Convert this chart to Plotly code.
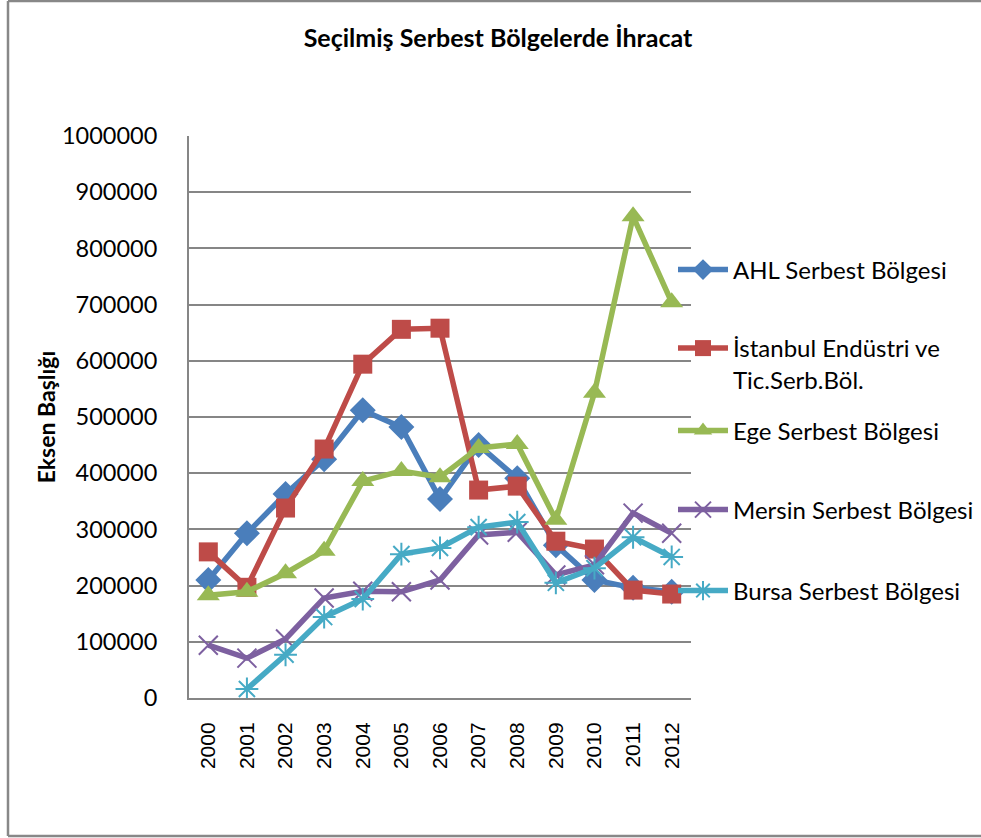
import plotly.graph_objects as go

years = ["2000", "2001", "2002", "2003", "2004", "2005", "2006",
         "2007", "2008", "2009", "2010", "2011", "2012"]

ahl = [210000, 293000, 363000, 425000, 512000, 482000, 354000,
       450000, 391000, 272000, 210000, 196000, 189000]
istanbul = [260000, 197000, 338000, 443000, 594000, 656000, 658000,
            370000, 377000, 279000, 265000, 192000, 185000]
ege = [183000, 189000, 222000, 262000, 386000, 404000, 393000,
       445000, 452000, 317000, 543000, 857000, 704000]
mersin = [94000, 71000, 105000, 178000, 190000, 189000, 210000,
          290000, 295000, 219000, 237000, 329000, 293000]
bursa = [None, 16000, 77000, 144000, 176000, 256000, 267000,
         304000, 313000, 205000, 231000, 286000, 251000]

names = ["AHL Serbest Bölgesi", "İstanbul Endüstri ve<br>Tic.Serb.Böl.",
         "Ege Serbest Bölgesi", "Mersin Serbest Bölgesi", "Bursa Serbest Bölgesi"]
series = [ahl, istanbul, ege, mersin, bursa]
colors = ["#4A7EBB", "#BE4B48", "#98B954", "#7D60A0", "#46AAC5"]
symbols = ["diamond", "square", "triangle-up", "x-thin", "asterisk"]
msizes = [20, 19, 20, 19, 19]

L, R, T, B = 189, 691, 136, 698
W, H = 981, 838
pw, ph = R - L, B - T


def px2x(p):
    return (p - L) / pw


def px2y(p):
    return (B - p) / ph


legend_y = [270, 364, 431, 510, 591]
legend_keys = ["legend", "legend2", "legend3", "legend4", "legend5"]

fig = go.Figure()
for i, (n, s, c, sym, ms) in enumerate(zip(names, series, colors, symbols, msizes)):
    open_sym = sym in ("x-thin", "asterisk")
    fig.add_trace(go.Scatter(
        x=years, y=s, name=n, mode="lines+markers",
        line=dict(color=c, width=5.5),
        marker=dict(symbol=sym, size=ms, color=c,
                    line=dict(color=c, width=2 if open_sym else 0)),
        legend=legend_keys[i],
        connectgaps=False,
    ))

legend_common = dict(xanchor="left", yanchor="middle", font=dict(size=24),
                     valign="top", itemwidth=50, bgcolor="rgba(0,0,0,0)",
                     borderwidth=0)
layout_legends = {}
for k, yy in zip(legend_keys, legend_y):
    layout_legends[k] = dict(x=px2x(673), y=px2y(yy), **legend_common)

fig.update_layout(
    width=W, height=H,
    margin=dict(l=L, r=W - R, t=T, b=H - B, pad=0, autoexpand=False),
    plot_bgcolor="white", paper_bgcolor="white",
    font=dict(family="Lato, Liberation Sans, sans-serif", color="black"),
    title=dict(text="<b>Seçilmiş Serbest Bölgelerde İhracat</b>",
               x=px2x(498), xref="paper", xanchor="center",
               y=1 - 38 / H, yanchor="middle", font=dict(size=25)),
    showlegend=True,
    **layout_legends,
)
fig.update_yaxes(range=[0, 1000000], dtick=100000, tickformat="d",
                 showgrid=True, gridcolor="#868686", gridwidth=2,
                 showline=True, linecolor="#868686", linewidth=2,
                 ticks="", tickfont=dict(size=23.5), ticklabelstandoff=25,
                 zeroline=False,
                 title=dict(text="<b>Eksen Başlığı</b>", font=dict(size=23), standoff=0))
fig.update_xaxes(type="category", range=[-0.5, len(years) - 0.5], showgrid=False,
                 showline=True, linecolor="#868686", linewidth=2,
                 ticks="", tickangle=-90, ticklabelstandoff=14,
                 tickfont=dict(size=21, family="Liberation Sans, Arial, sans-serif"))

# chart frame (left, top, bottom edges; right edge lies outside the image)
frame = dict(type="line", xref="paper", yref="paper",
             line=dict(color="#888888", width=2.5), layer="below")
fig.add_shape(x0=px2x(8), x1=px2x(8), y0=px2y(1), y1=px2y(836), **frame)
fig.add_shape(x0=px2x(8), x1=px2x(981), y0=px2y(1), y1=px2y(1), **frame)
fig.add_shape(x0=px2x(8), x1=px2x(981), y0=px2y(836), y1=px2y(836), **frame)

fig.write_html("out.html", config={"displayModeBar": False},
               post_script="document.body.style.margin='0';document.body.style.overflow='hidden';")
